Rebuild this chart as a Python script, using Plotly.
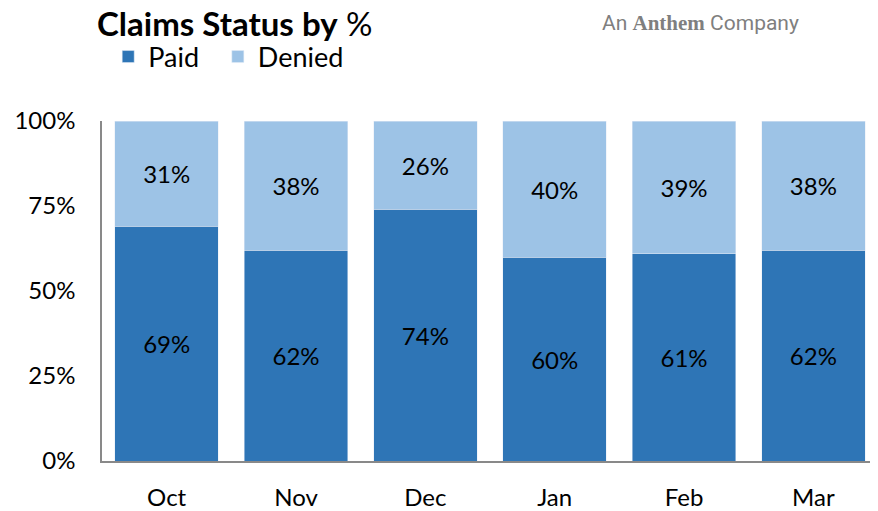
import plotly.graph_objects as go

months = ["Oct", "Nov", "Dec", "Jan", "Feb", "Mar"]
paid = [69, 62, 74, 60, 61, 62]
denied = [31, 38, 26, 40, 39, 38]
y_ticks = [0, 25, 50, 75, 100]

FONT = "Lato, Calibri, sans-serif"

# page body has an 8px margin, so the figure is drawn 8px smaller and offset
W, H = 870, 503
L, T, B = 94, 113, 50
PH = H - T - B

fig = go.Figure()
fig.add_trace(go.Bar(
    x=months, y=paid, name="Paid&nbsp;&nbsp;", marker_color="#2E75B6",
    text=[f"{v}%" for v in paid], textposition="inside", insidetextanchor="middle",
    textfont=dict(size=24, color="black", family=FONT),
))
fig.add_trace(go.Bar(
    x=months, y=denied, name="Denied", marker_color="#9DC3E6",
    text=[f"{v}%" for v in denied], textposition="inside", insidetextanchor="middle",
    textfont=dict(size=24, color="black", family=FONT),
))

fig.update_layout(
    barmode="stack",
    bargap=0.2,
    width=W, height=H,
    margin=dict(l=L, r=0, t=T, b=B),
    plot_bgcolor="white", paper_bgcolor="white",
    font=dict(family=FONT, size=24, color="black"),
    uniformtext=dict(minsize=24, mode="show"),
    title=dict(
        text="<b>Claims Status by</b> %", x=89 / W, xref="container", xanchor="left",
        y=1 - 5 / H, yanchor="top", pad=dict(t=0), font=dict(size=33, family=FONT, color="black"),
    ),
    legend=dict(
        orientation="h", x=0.008, xanchor="left", y=(H - B - 49) / PH, yanchor="middle",
        font=dict(size=27, family=FONT), traceorder="normal", itemwidth=30,
        bgcolor="rgba(0,0,0,0)",
    ),
    showlegend=True,
)
fig.update_xaxes(
    showline=True, linecolor="#898989", linewidth=1.5, ticks="outside", ticklen=14,
    tickcolor="rgba(0,0,0,0)", tickfont=dict(size=24),
)
fig.update_yaxes(
    range=[0, 100], tickvals=y_ticks, ticktext=[f"{v}%" for v in y_ticks],
    showline=True, linecolor="#898989", linewidth=1.5, showgrid=False, zeroline=False,
    ticks="outside", ticklen=20, tickcolor="rgba(0,0,0,0)", tickfont=dict(size=24),
)
fig.add_annotation(
    xref="paper", yref="paper", x=(592 - L) / 776, y=1 + (T - 1) / PH,
    xanchor="left", yanchor="top", showarrow=False,
    text=("<span style='font-family:Roboto'>An </span>"
          "<span style='font-family:Liberation Serif'><b>Anthem</b></span>"
          "<span style='font-family:Roboto'> Company</span>"),
    font=dict(size=21, color="#7f7f7f"),
)

fig.write_html("out.html")
